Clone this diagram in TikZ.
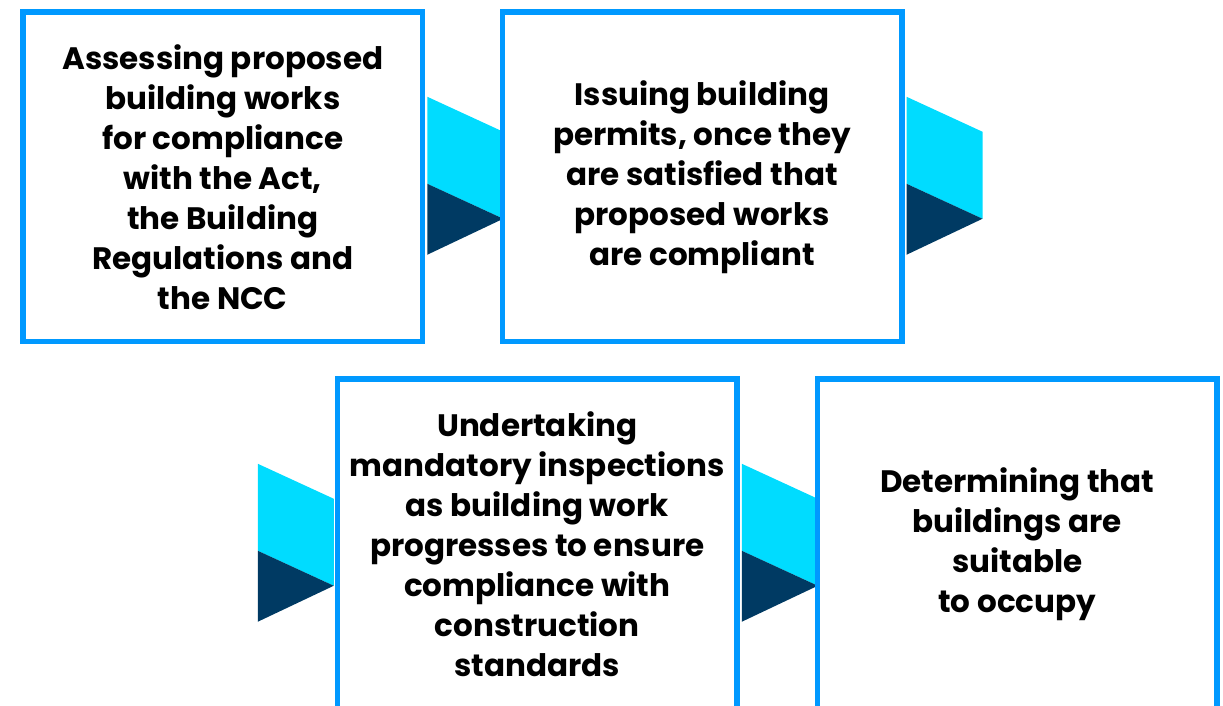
\documentclass[tikz,border=0pt]{standalone}
\usepackage{fontspec}
\setmainfont{Poppins}[BoldFont={* Bold}]
\usetikzlibrary{backgrounds}
\definecolor{boxblue}{RGB}{0,153,255}
\definecolor{arrowlight}{RGB}{0,220,255}
\definecolor{arrowdark}{RGB}{0,58,99}
\tikzset{
  chevron/.pic={
    \fill[arrowlight] (0,0) -- (76,35) -- (76,122) -- (0,87) -- cycle;
    \fill[arrowdark] (0,87) -- (76,122) -- (0,158) -- cycle;
  }
}
\begin{document}
\begin{tikzpicture}[x=1pt, y=-1pt,
    stagebox/.style={draw=boxblue, line width=5.5pt, minimum width=399.5pt,
      minimum height=329.5pt, inner sep=0pt, align=center,
      font=\fontsize{31}{40}\selectfont\bfseries}]
  \useasboundingbox (0,0) rectangle (1223,705);
  \clip (0,0) rectangle (1223,705);

  \node[stagebox] (assess) at (222.75,176.75) {Assessing proposed\\building works\\for compliance\\with the Act,\\the Building\\Regulations and\\the NCC};
  \node[stagebox] (permit) at (702,176.75) {Issuing building\\permits, once they\\are satisfied that\\proposed works\\are compliant};
  \node[stagebox] (inspect) at (537.25,543.75) {Undertaking\\mandatory inspections\\as building work\\progresses to ensure\\compliance with\\construction\\standards};
  \node[stagebox] (occupy) at (1017.25,543.75) {Determining that\\buildings are\\suitable\\to occupy};

  \begin{scope}[on background layer]
    \path ([shift={(2,-80)}]assess.east) pic {chevron};
    \path ([shift={(2,-80)}]permit.east) pic {chevron};
    \path ([shift={(-77,-80)}]inspect.west) pic {chevron};
    \path ([shift={(2,-80)}]inspect.east) pic {chevron};
  \end{scope}
\end{tikzpicture}
\end{document}
